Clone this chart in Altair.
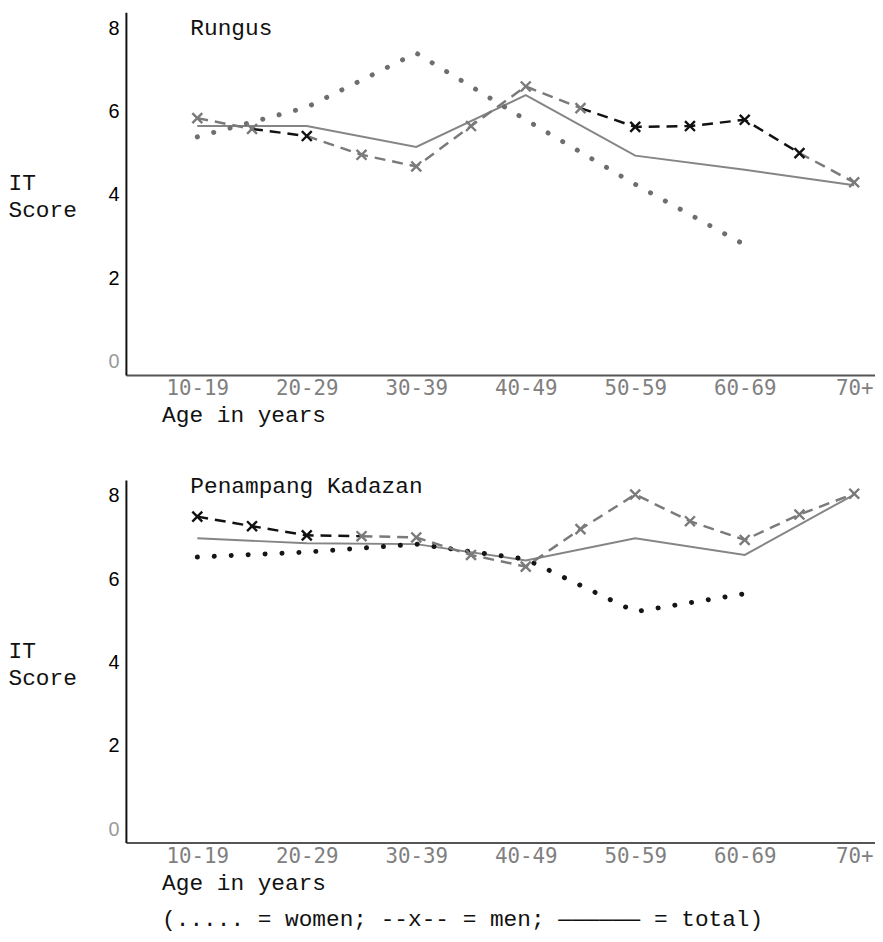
import altair as alt

# ---------------- data ----------------
age_labels = ["10-19", "20-29", "30-39", "40-49", "50-59", "60-69", "70+"]
decade_mid = [15, 25, 35, 45, 55, 65, 75]
men_ages = [15, 20, 25, 30, 35, 40, 45, 50, 55, 60, 65, 70, 75]
women_ages = [15, 25, 35, 45, 55, 65]
y_ticks = [0, 2, 4, 6, 8]

panel_names = ["Rungus", "Penampang Kadazan"]

rungus_men = [5.84, 5.58, 5.41, 4.96, 4.68, 5.65, 6.6, 6.08, 5.63, 5.65, 5.8, 5.0, 4.3]
rungus_total = [5.65, 5.65, 5.15, 6.39, 4.94, 4.6, 4.23]
rungus_women = [5.39, 6.1, 7.4, 5.8, 4.25, 2.8]

kadazan_men = [7.5, 7.27, 7.05, 7.03, 7.0, 6.58, 6.3, 7.2, 8.03, 7.39, 6.94, 7.55, 8.05]
kadazan_total = [6.98, 6.86, 6.84, 6.45, 6.98, 6.58, 8.03]
kadazan_women = [6.53, 6.65, 6.84, 6.48, 5.22, 5.65]

x_title = "Age in years"
y_title = ["IT", "Score"]
legend_text = "(..... = women; --x-- = men; \u2014\u2014\u2014\u2014\u2014\u2014 = total)"

# ---------------- styles ----------------
MONO = "Liberation Mono"
G = "#7a7a7a"
B = "#111111"
TOTAL_C = "#858585"

label_expr = "[" + ",".join("'%s'" % s for s in age_labels) + "][round((datum.value - 15) / 10)]"


def seg_rows(ages, vals, breaks, colors):
    rows = []
    for k in range(len(colors)):
        lo, hi = breaks[k], breaks[k + 1]
        for a, v in zip(ages, vals):
            if lo <= a <= hi:
                rows.append({"age": a, "v": v, "seg": k, "c": colors[k]})
    return rows


def panel(name, men, total, women, men_breaks, men_colors, marker_colors,
          women_color, name_y, xtitle):
    xs = alt.Scale(domain=[8.48, 76.9], nice=False, zero=False)
    ys = alt.Scale(domain=[-0.32, 8.38], nice=False, zero=False)
    xax = alt.Axis(values=decade_mid, labelExpr=label_expr, title=xtitle,
                   grid=False, ticks=False, labelFont="DejaVu Sans Mono",
                   labelFontSize=21, labelColor="#808080", labelPadding=3,
                   labelFlush=False, labelOverlap=False, labelBound=False,
                   domainColor="#555555", domainWidth=2,
                   titleFont=MONO, titleFontSize=23, titleFontWeight="normal",
                   titleColor="#111111", titleX=36, titleY=47, titleAlign="left",
                   titleBaseline="alphabetic", titleLineHeight=37)
    yax = alt.Axis(values=y_ticks, title=y_title, grid=False, ticks=False,
                   labelFont="Liberation Sans", labelFontSize=20,
                   labelColor={"expr": "datum.value == 0 ? '#9a9a9a' : '#000000'"},
                   labelPadding=7, domainColor="#111111", domainWidth=2,
                   titleAngle=0, titleAlign="left", titleBaseline="alphabetic",
                   titleX=-119, titleY=179, titleFont=MONO, titleFontSize=23,
                   titleFontWeight="normal", titleLineHeight=27,
                   titleColor="#111111")
    X = alt.X("age:Q", scale=xs, axis=xax)
    Y = alt.Y("v:Q", scale=ys, axis=yax)

    total_df = alt.Data(values=[{"age": a, "v": v} for a, v in zip(decade_mid, total)])
    women_df = alt.Data(values=[{"age": a, "v": v} for a, v in zip(women_ages, women)])
    men_line_df = alt.Data(values=seg_rows(men_ages, men, men_breaks, men_colors))
    men_pts_df = alt.Data(values=[{"age": a, "v": v, "c": c}
                                  for a, v, c in zip(men_ages, men, marker_colors)])

    total_l = alt.Chart(total_df).mark_line(strokeWidth=2, color=TOTAL_C).encode(x=X, y=Y)
    women_l = alt.Chart(women_df).mark_line(
        strokeDash=[0.1, 17], strokeCap="round", strokeWidth=5, color=women_color
    ).encode(x=X, y=Y)
    men_l = alt.Chart(men_line_df).mark_line(strokeDash=[11, 7], strokeWidth=2.5).encode(
        x=X, y=Y, color=alt.Color("c:N", scale=None), detail="seg:N")
    men_p = alt.Chart(men_pts_df).mark_point(
        shape="M-1,-1L1,1M-1,1L1,-1", filled=False, size=100, strokeWidth=2.4, opacity=1
    ).encode(x=X, y=Y, color=alt.Color("c:N", scale=None))
    name_t = alt.Chart(alt.Data(values=[{"t": name}])).mark_text(
        align="left", baseline="alphabetic", font=MONO, fontSize=23, color="#111111"
    ).encode(x=alt.value(65), y=alt.value(name_y), text="t:N")

    return alt.layer(total_l, women_l, men_l, men_p, name_t).properties(width=756, height=366)


top = panel(panel_names[0], rungus_men, rungus_total, rungus_women,
            [15, 20, 25, 50, 70, 75], [G, B, G, B, G],
            [G, G, B, G, G, G, G, G, B, B, B, B, G], "#6e6e6e", 23, x_title)
bottom = panel(panel_names[1], kadazan_men, kadazan_total, kadazan_women,
               [15, 30, 75], [B, G],
               [B, B, B, G, G, G, G, G, G, G, G, G, G], "#151515", 13,
               [x_title, legend_text])

chart = alt.vconcat(top, bottom, spacing=106, bounds="flush").properties(
    padding=0, background="white"
).configure_view(stroke=None)

chart.save("out.html", embed_options={"renderer": "svg", "actions": False})
